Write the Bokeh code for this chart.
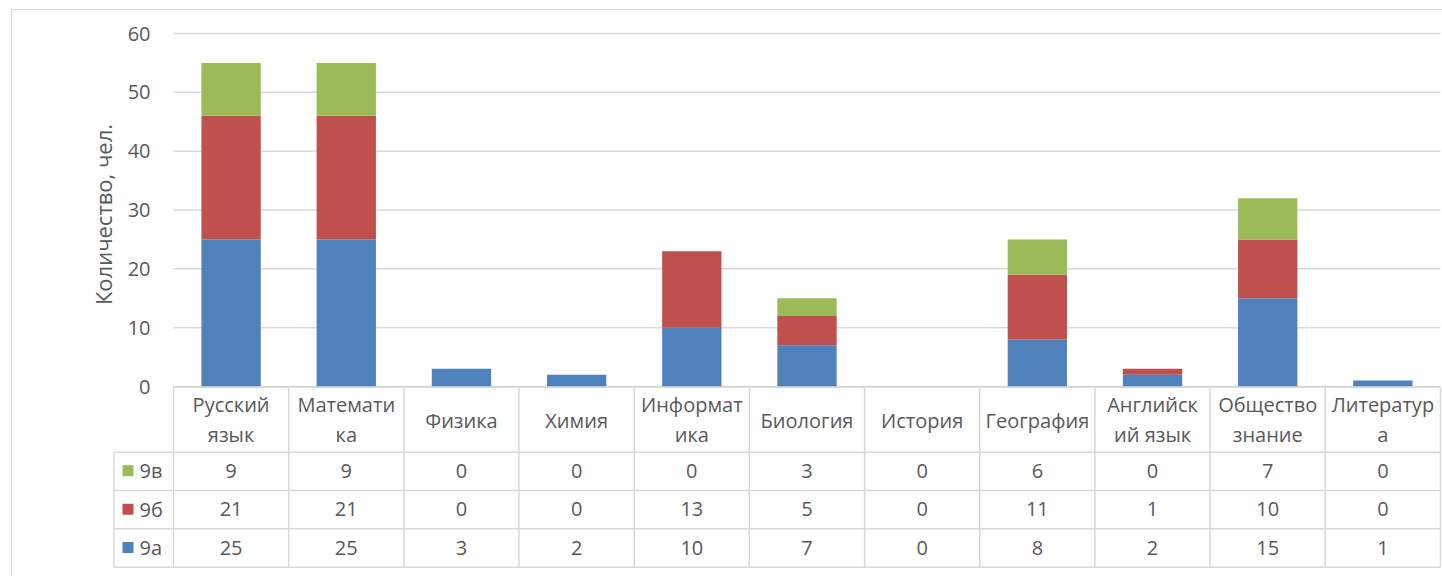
import math
from bokeh.plotting import figure
from bokeh.models import ColumnDataSource, Range1d, FixedTicker, Label
from bokeh.core.properties import value
from bokeh.embed import file_html
from bokeh.resources import INLINE

# ---------------- data ----------------
categories = ["Русский язык", "Математика", "Физика", "Химия", "Информатика",
              "Биология", "История", "География", "Английский язык",
              "Обществознание", "Литература"]
header_labels = ["Русский\nязык", "Математи\nка", "Физика", "Химия", "Информат\nика",
                 "Биология", "История", "География", "Английск\nий язык",
                 "Общество\nзнание", "Литератур\nа"]
v9a = [25, 25, 3, 2, 10, 7, 0, 8, 2, 15, 1]
v9b = [21, 21, 0, 0, 13, 5, 0, 11, 1, 10, 0]
v9v = [9, 9, 0, 0, 0, 3, 0, 6, 0, 7, 0]
series_names = ["9а", "9б", "9в"]
y_ticks = [0, 10, 20, 30, 40, 50, 60]
y_title = "Количество, чел."

# ---------------- styles ----------------
C_A, C_B, C_V = "#4f81bd", "#c0504d", "#9bbb59"
TXT = "#595959"
GRID = "#d9d9d9"
FONT = value("Open Sans")
FS = "20px"

n = len(categories)
W, H = 1442, 576
FL, FR, FT, FB = 80, 1441, 15, 568           # frame edges (px)
X0, X11 = 173, 1440                          # plot-area left/right (px)
Y0, Y60 = 386, 33                            # value 0 / 60 (px)
ux = (X11 - X0) / n
uy = (Y0 - Y60) / 60.0
x_start = -(X0 - FL) / ux
x_end = x_start + (FR - FL) / ux
y_start = -(FB - Y0) / uy
y_end = (Y0 - FT) / uy

p = figure(width=W, height=H, output_backend="svg", toolbar_location=None,
           x_range=Range1d(x_start, x_end), y_range=Range1d(y_start, y_end),
           x_axis_location=None,
           min_border_left=FL, min_border_right=W - FR,
           min_border_top=FT, min_border_bottom=H - FB,
           styles={"box-shadow": "inset 11px 9px 0 0 #ffffff, inset 12px 10px 0 0 #d9d9d9"})
p.extra_y_ranges = {"tbl": Range1d(FB - FT, 0)}   # table coords: px below the frame top
p.outline_line_color = None
p.border_fill_alpha = 0
p.background_fill_alpha = 0
p.grid.visible = False

# y axis (placed at the left edge of the plot area)
ax = p.yaxis[0]
ax.fixed_location = 0
ax.ticker = FixedTicker(ticks=y_ticks)
ax.axis_line_color = None
ax.major_tick_line_color = None
ax.minor_tick_line_color = None
ax.major_tick_out = 0
ax.major_tick_in = 0
ax.major_label_standoff = 23
ax.major_label_text_font = "Open Sans"
ax.major_label_text_font_size = FS
ax.major_label_text_color = TXT

# horizontal gridlines over the plot area
p.segment(x0=[0] * len(y_ticks), x1=[n] * len(y_ticks), y0=y_ticks, y1=y_ticks,
          line_color=GRID, line_width=1.5)

# stacked bars
src = ColumnDataSource(dict(x=[i + 0.5 for i in range(n)], a=v9a, b=v9b, v=v9v))
p.vbar_stack(["a", "b", "v"], x="x", width=0.515, source=src,
             fill_color=[C_A, C_B, C_V], line_color=None)

# axis title
p.add_layout(Label(x=-(X0 - 102) / ux, y=(Y0 - 214) / uy, text=y_title, angle=math.pi / 2,
                   text_align="center", text_baseline="middle",
                   text_font="Open Sans", text_font_size="22px", text_color=TXT))

# ---------------- data table ----------------
T = Y0 - FT                      # table top in table coords
LEG = -(X0 - 113.5) / ux         # left edge of the legend column
row_lines = [T + 65.7, T + 104, T + 142.3, T + 180.7]
top_line = T + 0.7

p.segment(x0=[0] + [LEG] * len(row_lines), x1=[n] * (len(row_lines) + 1),
          y0=[top_line] + row_lines, y1=[top_line] + row_lines,
          line_color=GRID, line_width=1.5, y_range_name="tbl")
p.segment(x0=[LEG] + list(range(n + 1)), x1=[LEG] + list(range(n + 1)),
          y0=[row_lines[0]] + [top_line] * (n + 1), y1=[row_lines[-1]] * (n + 2),
          line_color=GRID, line_width=1.5, y_range_name="tbl")

# header labels (wrapped like the original)
hx, hy, ht = [], [], []
for i, lab in enumerate(header_labels):
    parts = lab.split("\n")
    if len(parts) == 1:
        hx.append(i + 0.5); hy.append(T + 34); ht.append(parts[0])
    else:
        for k, ptxt in enumerate(parts):
            hx.append(i + 0.5); hy.append(T + 17.5 + 30 * k); ht.append(ptxt)
p.text(x=hx, y=hy, text=ht, text_align="center", text_baseline="middle",
       text_font=FONT, text_font_size=FS, text_color=TXT, y_range_name="tbl")

# value rows (top to bottom: 9в, 9б, 9а)
rows = [(series_names[2], v9v, C_V), (series_names[1], v9b, C_B), (series_names[0], v9a, C_A)]
vx, vy, vt = [], [], []
kx, ky, kc, lx, ly, lt = [], [], [], [], [], []
for r, (name, vals, col) in enumerate(rows):
    yc = (row_lines[r] + row_lines[r + 1]) / 2 - 0.5
    for i, v in enumerate(vals):
        vx.append(i + 0.5); vy.append(yc); vt.append(str(v))
    kx.append(-(X0 - 127.5) / ux); ky.append(yc); kc.append(col)
    lx.append(-(X0 - 139) / ux); ly.append(yc); lt.append(name)
p.text(x=vx, y=vy, text=vt, text_align="center", text_baseline="middle",
       text_font=FONT, text_font_size=FS, text_color=TXT, y_range_name="tbl")
p.rect(x=kx, y=ky, width=11, height=11, width_units="screen", height_units="screen",
       fill_color=kc, line_color=None, y_range_name="tbl")
p.text(x=lx, y=ly, text=lt, text_align="left", text_baseline="middle",
       text_font=FONT, text_font_size=FS, text_color=TXT, y_range_name="tbl")

open("out.html", "w").write(file_html(p, INLINE))
